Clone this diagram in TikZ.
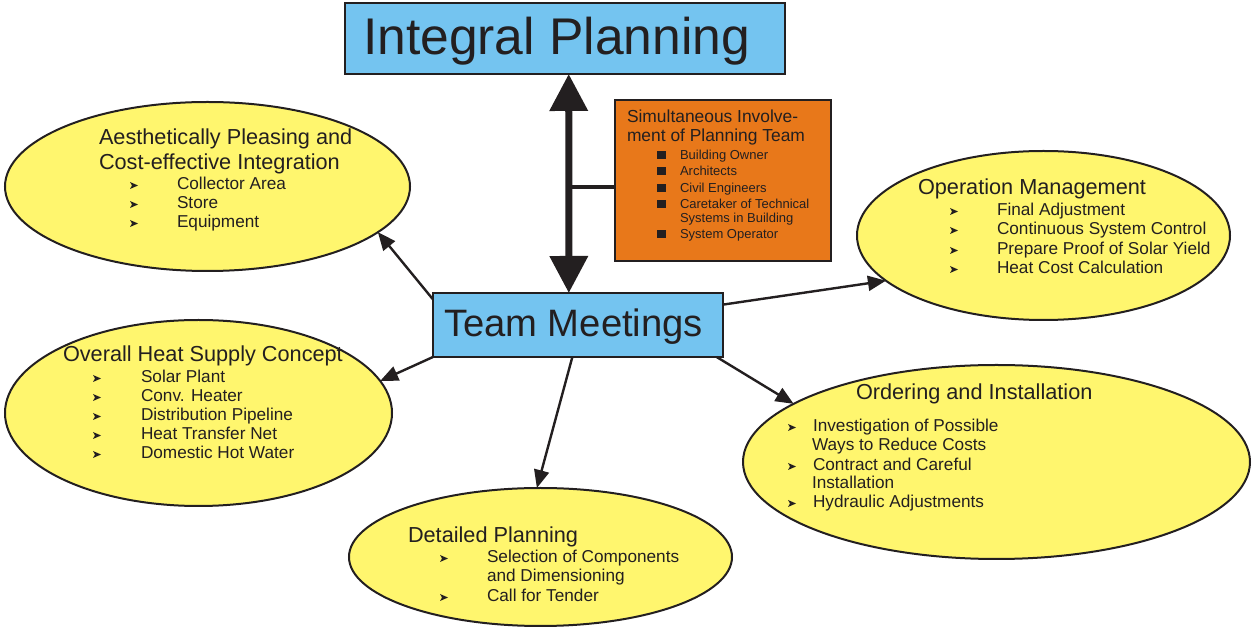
\documentclass[tikz,border=0pt]{standalone}
\usepackage{fontspec}
\setmainfont{Liberation Sans}
\usetikzlibrary{shapes.geometric,arrows.meta}
\definecolor{ink}{HTML}{231F20}
\definecolor{skyb}{HTML}{74C4F0}
\definecolor{yel}{HTML}{FFF66E}
\definecolor{org}{HTML}{E8781A}
\begin{document}
\begin{tikzpicture}[x=0.5pt,y=-0.5pt,
  ell/.style={ellipse, draw=ink, line width=1pt, fill=yel, inner sep=0pt, outer sep=0pt},
  bluebox/.style={rectangle, draw=ink, line width=1pt, fill=skyb, inner sep=0pt, outer sep=0pt},
  lbl/.style={anchor=base west, inner sep=0pt, outer sep=0pt, text=ink},
  ttl/.style={lbl, font=\fontsize{10.85}{13}\selectfont},
  itm/.style={lbl, font=\fontsize{8.6}{10}\selectfont},
  oitm/.style={lbl, font=\fontsize{6.5}{8}\selectfont},
  conn/.style={draw=ink, line width=1.2pt, -{Triangle[length=9pt,width=7.5pt]}},
  bul/.pic={\fill[ink] (0,-1) -- (8,-4.5) -- (0,-8) -- (2,-4.5) -- cycle;}
]
\useasboundingbox (0,0) rectangle (1255,630);

% ellipses
\node[ell, minimum width=202.5pt, minimum height=84.5pt] (A) at (207.5,186.5) {};
\node[ell, minimum width=193.5pt, minimum height=93pt] (B) at (198.5,413) {};
\node[ell, minimum width=191.5pt, minimum height=69pt] (C) at (540.5,557) {};
\node[ell, minimum width=253.5pt, minimum height=97pt] (D) at (996.5,462) {};
\node[ell, minimum width=186.5pt, minimum height=84.5pt] (E) at (1043.5,235.5) {};

% boxes
\node[bluebox, minimum width=220pt, minimum height=35.5pt] (ip) at (565,38.5) {};
\node[lbl, font=\fontsize{25.8}{30}\selectfont] (ipt) at (363,55) {Integral Planning};
\node[bluebox, minimum width=145pt, minimum height=32pt] (tm) at (578,325) {};
\node[lbl, font=\fontsize{19.1}{23}\selectfont] (tmt) at (444,337) {Team Meetings};
\node[rectangle, draw=ink, line width=0.9pt, fill=org, inner sep=0pt, outer sep=0pt,
      minimum width=108pt, minimum height=80.5pt] (ob) at (723,180.5) {};

% double arrow and link to orange box
\draw[ink, line width=3.5pt,
  {Triangle[length=18.5pt,width=18.5pt]}-{Triangle[length=18.5pt,width=18.5pt]}]
  (ip.-84) -- (tm.106);
\coordinate (j) at (569,187);
\draw[ink, line width=2pt] (j) -- (j -| ob.west);

% orange box text
\node[lbl, font=\fontsize{8.7}{10}\selectfont] (o1) at (627,123) {Simultaneous Involve-};
\node[lbl, font=\fontsize{8.7}{10}\selectfont] (o2) at (627,142) {ment of Planning Team};
\foreach \yy/\tt [count=\i] in {160/Building Owner, 176/Architects, 193/Civil Engineers,
    209/Caretaker of Technical, 239/System Operator}{
  \fill[ink] (657,\yy-9) rectangle (666,\yy-1);
  \node[oitm] (ob\i) at (680,\yy) {\tt};
}
\node[oitm] (ob6) at (680,223) {Systems in Building};

% ellipse A text
\node[ttl] (At1) at (99,145) {Aesthetically Pleasing and};
\node[ttl] (At2) at (99,170) {Cost-effective Integration};
\foreach \yy/\tt [count=\i] in {190/Collector Area, 209/Store, 228/Equipment}{
  \pic at (130,\yy) {bul};
  \node[itm] (Ai\i) at (177,\yy) {\tt};
}

% ellipse B text
\node[ttl] (Bt) at (63,362) {Overall Heat Supply Concept};
\foreach \yy/\tt [count=\i] in {383/Solar Plant, 402/Conv. Heater, 421/Distribution Pipeline,
    440/Heat Transfer Net, 459/Domestic Hot Water}{
  \pic at (93,\yy) {bul};
  \node[itm] (Bi\i) at (141,\yy) {\tt};
}

% ellipse C text
\node[ttl] (Ct) at (408,543) {Detailed Planning};
\pic at (440,563) {bul};
\node[itm] (Ci1) at (487,563) {Selection of Components};
\node[itm] (Ci2) at (487,582) {and Dimensioning};
\pic at (440,602) {bul};
\node[itm] (Ci3) at (487,602) {Call for Tender};

% ellipse D text
\node[ttl] (Dt) at (856,400) {Ordering and Installation};
\pic at (788,432) {bul};
\node[itm] (Di1) at (813,432) {Investigation of Possible};
\node[itm] (Di2) at (812,451) {Ways to Reduce Costs};
\pic at (788,471) {bul};
\node[itm] (Di3) at (813,471) {Contract and Careful};
\node[itm] (Di4) at (812,489) {Installation};
\pic at (788,508) {bul};
\node[itm] (Di5) at (813,508) {Hydraulic Adjustments};

% ellipse E text
\node[ttl] (Et) at (918,195) {Operation Management};
\foreach \yy/\tt [count=\i] in {216/Final Adjustment, 235/Continuous System Control,
    255/Prepare Proof of Solar Yield, 274/Heat Cost Calculation}{
  \pic at (950,\yy) {bul};
  \node[itm] (Ei\i) at (997,\yy) {\tt};
}

% connectors from Team Meetings
\draw[conn] (tm.170) -- (A.-15);
\draw[conn] (tm.south west) -- (B.10);
\draw[conn] (tm.-100) -- (C.93);
\draw[conn] (tm.-13) -- (D.164);
\draw[conn] (tm.8) -- (E.196);
\end{tikzpicture}
\end{document}
